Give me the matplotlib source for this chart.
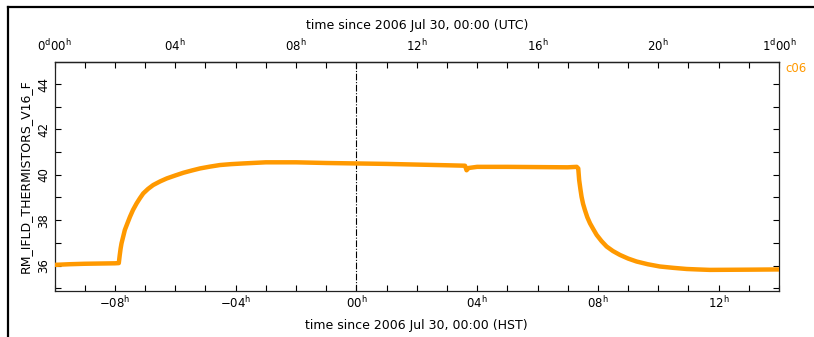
import matplotlib
matplotlib.use("Agg")
import matplotlib.pyplot as plt
from matplotlib.lines import Line2D
from matplotlib.ticker import MultipleLocator

# ---- data (HST hours since 2006 Jul 30 00:00, temperature) ----
hst_hours = [-10.0, -9.5, -9.0, -8.5, -8.0, -7.87,
             -7.84, -7.81, -7.78, -7.72, -7.67, -7.58, -7.50, -7.40, -7.28, -7.17,
             -7.06, -6.90, -6.73, -6.50, -6.28, -6.00, -5.73, -5.45, -5.18,
             -4.85, -4.52, -4.15, -3.75, -3.30, -3.0, -2.0, -1.0, 0.0, 1.0, 2.0,
             3.0, 3.6, 3.65, 3.72, 4.0, 5.0, 6.0, 7.0, 7.3, 7.35,
             7.38, 7.42, 7.46, 7.51, 7.57, 7.65, 7.74, 7.85, 7.96, 8.12, 8.29,
             8.50, 8.73, 9.00, 9.28, 9.65, 10.05, 10.50, 10.94, 11.30,
             11.71, 13.0, 14.0]
values = [36.03, 36.06, 36.08, 36.09, 36.10, 36.11,
          36.45, 36.75, 36.98, 37.30, 37.57, 37.88, 38.15, 38.45, 38.74, 38.97,
          39.18, 39.38, 39.55, 39.71, 39.84, 39.97, 40.09, 40.19, 40.28,
          40.36, 40.43, 40.47, 40.50, 40.53, 40.55, 40.55, 40.52, 40.50, 40.48, 40.45,
          40.42, 40.40, 40.20, 40.30, 40.35, 40.35, 40.34, 40.33, 40.35, 40.28,
          39.77, 39.38, 39.03, 38.72, 38.45, 38.13, 37.86, 37.60, 37.35, 37.08, 36.84,
          36.64, 36.47, 36.31, 36.18, 36.06, 35.96, 35.90, 35.85, 35.83,
          35.81, 35.82, 35.83]

bottom_ticks = [-8, -4, 0, 4, 8, 12]
bottom_labels = [r"$-$08$^{\mathrm{h}}$", r"$-$04$^{\mathrm{h}}$", r"00$^{\mathrm{h}}$",
                 r"04$^{\mathrm{h}}$", r"08$^{\mathrm{h}}$", r"12$^{\mathrm{h}}$"]
top_ticks = [0, 4, 8, 12, 16, 20, 24]
top_labels = [r"0$^{\mathrm{d}}$00$^{\mathrm{h}}$", r"04$^{\mathrm{h}}$", r"08$^{\mathrm{h}}$",
              r"12$^{\mathrm{h}}$", r"16$^{\mathrm{h}}$", r"20$^{\mathrm{h}}$",
              r"1$^{\mathrm{d}}$00$^{\mathrm{h}}$"]
y_ticks = [36, 38, 40, 42, 44]
series_name = "c06"

W, H = 814, 337
fig = plt.figure(figsize=(W / 100, H / 100), dpi=100)
plt.rcParams['mathtext.default'] = 'regular'

L, R, T, B = 54.5, 779, 62, 291
ax = fig.add_axes([L / W, 1 - B / H, (R - L) / W, (B - T) / H])

orange = '#ff9900'
ax.plot(hst_hours, values, color=orange, lw=3.2, solid_capstyle='butt',
        solid_joinstyle='round', zorder=3)
ax.axvline(0, color='black', lw=0.8, ls=(0, (6, 1.5, 1, 1.5)), zorder=2)

ax.set_xlim(-10, 14)
ax.set_ylim(34.88, 44.97)

fs = 8.5
ax.set_xticks(bottom_ticks)
ax.set_xticklabels(bottom_labels, fontsize=fs)
ax.xaxis.set_minor_locator(MultipleLocator(1))
ax.set_yticks(y_ticks)
ax.set_yticklabels([str(v) for v in y_ticks], fontsize=fs, rotation=90, va='center')
ax.yaxis.set_minor_locator(MultipleLocator(1))
ax.tick_params(which='both', direction='in', length=4.5, width=0.8, right=True, top=False,
               pad=3)
ax.tick_params(axis='x', which='both', pad=3)
for s in ax.spines.values():
    s.set_linewidth(0.9)
    s.set_color('#222222')

ax.set_xlabel("time since 2006 Jul 30, 00:00 (HST)", fontsize=9, labelpad=6)
ax.set_ylabel("RM_IFLD_THERMISTORS_V16_F", fontsize=9, labelpad=4)

sec = ax.secondary_xaxis('top', functions=(lambda x: x + 10, lambda x: x - 10))
sec.set_xticks(top_ticks)
sec.set_xticklabels(top_labels, fontsize=fs)
sec.xaxis.set_minor_locator(MultipleLocator(1))
sec.tick_params(which='both', direction='in', length=4.5, width=0.8, pad=6)
sec.set_xlabel("time since 2006 Jul 30, 00:00 (UTC)", fontsize=9, labelpad=6)
sec.spines['top'].set_linewidth(0.9)

fig.text(785 / W, 1 - 69 / H, series_name, color=orange, fontsize=fs, ha='left', va='center')

# outer frame (top and left edges visible)
fig.add_artist(Line2D([8 / W, 1.0], [1 - 7 / H, 1 - 7 / H], color='black', lw=1.6,
                      transform=fig.transFigure))
fig.add_artist(Line2D([8 / W, 8 / W], [0.0, 1 - 7 / H], color='black', lw=1.6,
                      transform=fig.transFigure))

fig.savefig("out.png", dpi=100)
